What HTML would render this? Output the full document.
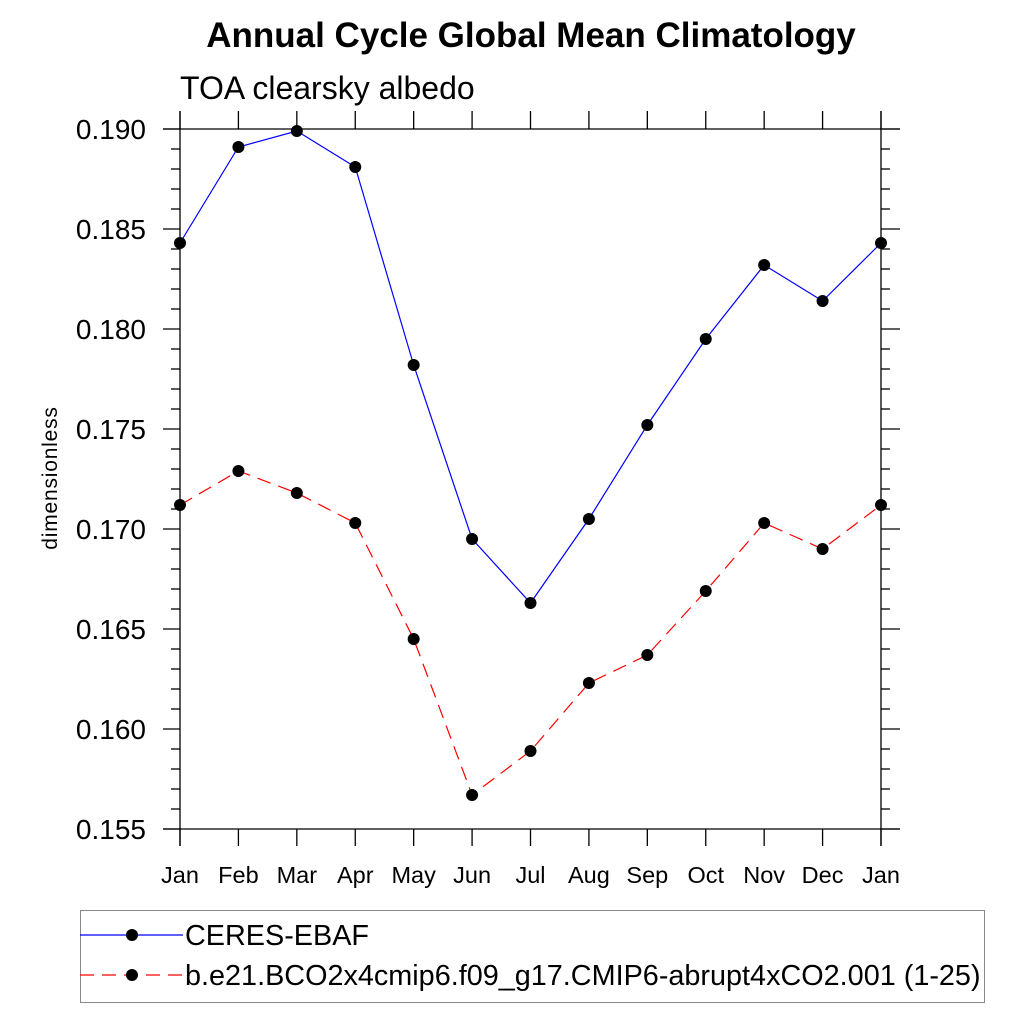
<!DOCTYPE html><html><head><meta charset="utf-8"><style>body{margin:0;background:#fff}svg{display:block;font-family:"Liberation Sans",sans-serif}</style></head><body>
<svg id="c" width="1024" height="1024">
<text x="531" y="47" text-anchor="middle" font-size="35" font-weight="bold">Annual Cycle Global Mean Climatology</text>
<text x="180" y="99" font-size="32">TOA clearsky albedo</text>
<text transform="translate(57,478) rotate(-90)" text-anchor="middle" font-size="21" letter-spacing="0.8">dimensionless</text>
<g id="ax"></g><g id="ser"></g>
<g>
<rect x="80.5" y="910.5" width="904" height="92" fill="none" stroke="#888"/>
<line x1="80" y1="935" x2="183" y2="935" stroke="#00f" stroke-width="1.2"/>
<circle cx="132" cy="935" r="6"/>
<text x="185" y="945" font-size="28.8">CERES-EBAF</text>
<line x1="80" y1="975" x2="183" y2="975" stroke="#f00" stroke-width="1.2" stroke-dasharray="14,8"/>
<circle cx="132" cy="975" r="6"/>
<text x="185" y="985" font-size="28.8">b.e21.BCO2x4cmip6.f09_g17.CMIP6-abrupt4xCO2.001 (1-25)</text>
</g>
</svg>
<script>
const months=["Jan","Feb","Mar","Apr","May","Jun","Jul","Aug","Sep","Oct","Nov","Dec","Jan"];
const ceres=[0.1843,0.1891,0.1899,0.1881,0.1782,0.1695,0.1663,0.1705,0.1752,0.1795,0.1832,0.1814,0.1843];
const model=[0.1712,0.1729,0.1718,0.1703,0.1645,0.1567,0.1589,0.1623,0.1637,0.1669,0.1703,0.1690,0.1712];
const yTicks=["0.155","0.160","0.165","0.170","0.175","0.180","0.185","0.190"];
const NS="http://www.w3.org/2000/svg";
const X0=180,X1=881,Y0=829,Y1=129,ymin=0.155,ymax=0.190;
const xs=i=>X0+(X1-X0)*i/(months.length-1);
const ys=v=>Y0-(v-ymin)/(ymax-ymin)*(Y0-Y1);
function mk(p,t,a){const e=document.createElementNS(NS,t);for(const k in a)e.setAttribute(k,a[k]);p.appendChild(e);return e;}
const ax=document.getElementById('ax'),ser=document.getElementById('ser');
const L={stroke:"#000","stroke-width":1.3};
let e;
e=mk(ax,'line',{x1:X0,y1:111,x2:X0,y2:846,...L});


e=mk(ax,'line',{x1:X1,y1:111,x2:X1,y2:846,...L});


e=mk(ax,'line',{x1:163,y1:Y1,x2:900,y2:Y1,...L});


e=mk(ax,'line',{x1:163,y1:Y0,x2:900,y2:Y0,...L});


months.forEach((m,i)=>{const x=xs(i);
 mk(ax,'line',{x1:x,y1:111,x2:x,y2:Y1,...L});
 mk(ax,'line',{x1:x,y1:Y0,x2:x,y2:846,...L});
 e=mk(ax,'text',{x:x,y:883,"text-anchor":"middle","font-size":23.5});e.textContent=m;
 
 
});
for(let k=0;k<=35;k++){const v=ymin+k*0.001,y=ys(v);
 if(k%5==0){mk(ax,'line',{x1:163,y1:y,x2:X0,y2:y,...L});mk(ax,'line',{x1:X1,y1:y,x2:900,y2:y,...L});}
 else{mk(ax,'line',{x1:171,y1:y,x2:X0,y2:y,...L});mk(ax,'line',{x1:X1,y1:y,x2:890,y2:y,...L});}
}
yTicks.forEach(t=>{e=mk(ax,'text',{x:146,y:ys(+t)+10,"text-anchor":"end","font-size":28});e.textContent=t;
 
 });
function draw(d,col,dash,name){
 e=mk(ser,'polyline',{points:d.map((v,i)=>xs(i)+","+ys(v)).join(" "),fill:"none",stroke:col,"stroke-width":1.2,"stroke-dasharray":dash});
 
 
 d.forEach((v,i)=>{e=mk(ser,'circle',{cx:xs(i),cy:ys(v),r:6});
  
  });
}
draw(ceres,"#00f","none","ceres");
draw(model,"#f00","14,8","model");
</script></body></html>
